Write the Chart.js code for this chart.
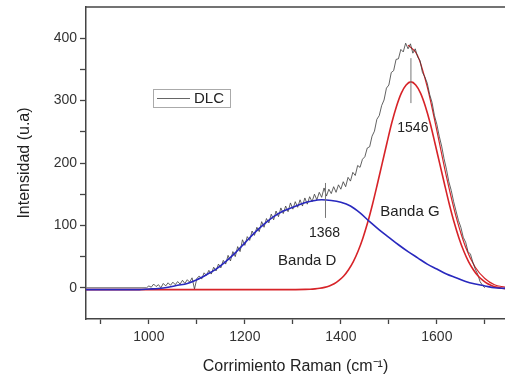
<!DOCTYPE html>
<html>
<head>
<meta charset="utf-8">
<script src="https://cdn.jsdelivr.net/npm/chart.js@4.4.1/dist/chart.umd.min.js"></script>
<style>
  html, body { margin: 0; padding: 0; background: #fff; }
</style>
</head>
<body>
<canvas id="raman" width="505" height="376"></canvas>
<script>
/* Espectro Raman de DLC: datos medidos y ajuste con dos bandas (D y G) */

// datos medidos (DLC)
var dlcX = [870, 995,
  1000, 1005, 1010, 1015, 1020, 1025, 1030, 1035, 1040, 1045, 1050, 1055, 1060, 1065, 1070, 1075, 1080, 1085, 1090, 1095,
  1100, 1105, 1110, 1115, 1120, 1125, 1130, 1135, 1140, 1145, 1150, 1155, 1160, 1165, 1170, 1175, 1180, 1185, 1190, 1195,
  1200, 1205, 1210, 1215, 1220, 1225, 1230, 1235, 1240, 1245, 1250, 1255, 1260, 1265, 1270, 1275, 1280, 1285, 1290, 1295,
  1300, 1305, 1310, 1315, 1320, 1325, 1330, 1335, 1340, 1345, 1350, 1355, 1360, 1365, 1370, 1375, 1380, 1385, 1390, 1395,
  1400, 1405, 1410, 1415, 1420, 1425, 1430, 1435, 1440, 1445, 1450, 1455, 1460, 1465, 1470, 1475, 1480, 1485, 1490, 1495,
  1500, 1505, 1510, 1515, 1520, 1525, 1530, 1535, 1540, 1545, 1550, 1555, 1560, 1565, 1570, 1575, 1580, 1585, 1590, 1595,
  1600, 1605, 1610, 1615, 1620, 1625, 1630, 1635, 1640, 1645, 1650, 1655, 1660, 1665, 1670, 1675, 1680, 1685, 1690, 1695, 1700];
var dlcY = [0, 0,
  3, 1, 6, 2, 5, 0, 7, 3, 8, 4, 9, 5, 10, 6, 12, 7, 13, 9, 16, -2,
  15, 19, 14, 24, 20, 28, 22, 33, 27, 38, 32, 44, 38, 52, 43, 58, 50, 66, 58, 77,
  68, 82, 76, 91, 84, 97, 90, 106, 97, 111, 104, 118, 109, 123, 114, 128, 119, 131, 122, 136,
  126, 138, 129, 141, 131, 144, 134, 146, 138, 150, 141, 153, 145, 160, 147, 158, 151, 162, 153, 165,
  158, 170, 162, 177, 171, 185, 180, 196, 193, 206, 210, 224, 226, 243, 251, 270, 276, 292, 301, 320,
  325, 345, 348, 366, 367, 382, 378, 392, 383, 391, 376, 383, 370, 364, 345, 338, 328, 310, 297, 276,
  262, 243, 227, 207, 190, 170, 156, 138, 123, 108, 97, 81, 73, 58, 54, 41, 30, 22, 10, 4, 0];

// banda D
var dX = [869, 900, 940, 980, 1000, 1020, 1040, 1060, 1080, 1100, 1120, 1140, 1160, 1180, 1200, 1220, 1240, 1260, 1280, 1300,
  1320, 1340, 1360, 1380, 1400, 1420, 1440, 1460, 1480, 1500, 1520, 1540, 1560, 1580, 1600, 1620, 1640, 1660, 1680, 1700, 1720, 1742];
var bandaD = [-3, -3, -3, -3, -2, -1, 1, 4, 7, 13, 21, 30, 42, 56, 72, 88, 102, 114, 123, 129,
  135, 139, 141, 140, 137, 131, 120, 106, 93, 81, 69, 58, 48, 38, 30, 22, 16, 10, 6, 3, 0, -1];

// ajuste acumulado (solo visible a la derecha del pico G)
var sumX = [1540, 1560, 1580, 1600, 1620, 1640, 1660, 1680, 1700, 1720, 1742];
var ajusteTotal = [389, 372, 322, 252, 178, 114, 65, 33, 15, 5, 1];

// banda G
var gX = [869, 1100, 1266, 1306, 1326, 1336, 1346, 1356, 1366, 1376, 1386, 1396, 1406, 1416, 1426, 1436, 1446, 1456, 1466, 1476,
  1486, 1496, 1506, 1516, 1526, 1536, 1546, 1556, 1566, 1576, 1586, 1596, 1606, 1616, 1626, 1636, 1646, 1656, 1666, 1676,
  1686, 1696, 1706, 1716, 1726, 1736, 1742];
var bandaG = [-3, -3, -3, -2.9, -2.6, -2.3, -1.7, -0.8, 0.7, 3, 6.5, 12, 19, 29, 42, 59, 80, 105, 134, 166,
  199, 232, 264, 291, 312, 325, 330, 325, 312, 291, 264, 232, 199, 166, 134, 105, 80, 59, 42, 29,
  19, 12, 6.5, 3, 0.7, -0.8, -1.3];

// posiciones de los picos
var picos = [1368, 1546];
var picoTramos = [[112, 168], [296, 368]];

var xTicks = [900, 1000, 1100, 1200, 1300, 1400, 1500, 1600, 1700];
var yTicks = [0, 50, 100, 150, 200, 250, 300, 350, 400];

function pairs(xs, ys) {
  return xs.map(function (x, i) { return { x: x, y: ys[i] }; });
}

var FONT = '"Liberation Sans", Arial, sans-serif';
var AXIS = '#444';

var extras = {
  id: 'extras',
  afterDatasetsDraw: function (chart) {
    var ctx = chart.ctx, a = chart.chartArea;
    var sx = chart.scales.x, sy = chart.scales.y;
    ctx.save();
    // marco superior
    ctx.strokeStyle = AXIS;
    ctx.lineWidth = 1.5;
    ctx.beginPath();
    ctx.moveTo(a.left, a.top);
    ctx.lineTo(a.right, a.top);
    ctx.stroke();

    // leyenda
    var lx = a.left + 67, ly = a.top + 82;
    ctx.strokeStyle = '#aaa';
    ctx.lineWidth = 1;
    ctx.strokeRect(lx + 0.5, ly + 0.5, 77, 18);
    ctx.strokeStyle = '#666';
    ctx.beginPath();
    ctx.moveTo(lx + 4, ly + 9.5);
    ctx.lineTo(lx + 37, ly + 9.5);
    ctx.stroke();
    ctx.fillStyle = '#222';
    ctx.font = '15px ' + FONT;
    ctx.textAlign = 'left';
    ctx.textBaseline = 'middle';
    ctx.fillText('DLC', lx + 41, ly + 10);

    // etiquetas
    ctx.textAlign = 'center';
    ctx.font = '14px ' + FONT;
    ctx.fillText('1368', sx.getPixelForValue(1366), sy.getPixelForValue(88));
    ctx.fillText('1546', sx.getPixelForValue(1550), sy.getPixelForValue(256));
    ctx.font = '15px ' + FONT;
    ctx.fillText('Banda D', sx.getPixelForValue(1330), sy.getPixelForValue(43));
    ctx.fillText('Banda G', sx.getPixelForValue(1544), sy.getPixelForValue(122));
    ctx.restore();
  }
};

var ctx = document.getElementById('raman').getContext('2d');
var chart = new Chart(ctx, {
  type: 'line',
  data: {
    datasets: [
      { label: 'pico D', data: pairs([picos[0], picos[0]], picoTramos[0]), borderColor: '#777', borderWidth: 1, order: -1 },
      { label: 'pico G', data: pairs([picos[1], picos[1]], picoTramos[1]), borderColor: '#777', borderWidth: 1, order: -1 },
      { label: 'Banda D', data: pairs(dX, bandaD), borderColor: 'rgb(40, 40, 190)', borderWidth: 1.6,
        cubicInterpolationMode: 'monotone', order: 0 },
      { label: 'Banda G', data: pairs(gX, bandaG), borderColor: 'rgb(215, 35, 40)', borderWidth: 1.6,
        cubicInterpolationMode: 'monotone', order: 1 },
      { label: 'DLC', data: pairs(dlcX, dlcY), borderColor: '#3a3a3a', borderWidth: 0.8, tension: 0, order: 2 },
      { label: 'Ajuste', data: pairs(sumX, ajusteTotal), borderColor: 'rgb(215, 35, 40)', borderWidth: 1.2,
        cubicInterpolationMode: 'monotone', order: 3 }
    ]
  },
  options: {
    responsive: false,
    animation: false,
    devicePixelRatio: 1,
    layout: { padding: { top: 7, right: 0, left: 0, bottom: 0 } },
    elements: { point: { radius: 0, hoverRadius: 0 } },
    plugins: { legend: { display: false }, tooltip: { enabled: false } },
    scales: {
      x: {
        type: 'linear',
        min: 869,
        max: 1742,
        afterBuildTicks: function (s) { s.ticks = xTicks.map(function (v) { return { value: v }; }); },
        afterFit: function (s) { s.height = 57; s.paddingLeft = 0; s.paddingRight = 0; },
        ticks: {
          autoSkip: false,
          maxRotation: 0,
          padding: 5,
          color: '#333',
          font: { family: FONT, size: 14 },
          callback: function (v) { return v % 200 === 0 ? v : ''; }
        },
        grid: { drawOnChartArea: false, drawTicks: true, tickLength: 5, tickColor: AXIS, tickWidth: 1.3 },
        border: { display: true, color: AXIS, width: 1.5 },
        title: {
          display: true,
          text: 'Corrimiento Raman (cm\u207B\u00B9)',
          color: '#222',
          font: { family: FONT, size: 16 },
          padding: { top: 0, bottom: 0 }
        }
      },
      y: {
        min: -50,
        max: 450,
        afterBuildTicks: function (s) { s.ticks = yTicks.map(function (v) { return { value: v }; }); },
        afterFit: function (s) { s.width = 86; s.paddingTop = 0; s.paddingBottom = 0; },
        ticks: {
          autoSkip: false,
          padding: 3,
          color: '#333',
          font: { family: FONT, size: 14 },
          callback: function (v) { return v % 100 === 0 ? v : ''; }
        },
        grid: { drawOnChartArea: false, drawTicks: true, tickLength: 6, tickColor: AXIS, tickWidth: 1.3 },
        border: { display: true, color: AXIS, width: 1.5 },
        title: {
          display: true,
          text: 'Intensidad (u.a)',
          color: '#222',
          font: { family: FONT, size: 16 },
          padding: { top: 15, bottom: 0 }
        }
      }
    }
  },
  plugins: [extras]
});
</script>
</body>
</html>
